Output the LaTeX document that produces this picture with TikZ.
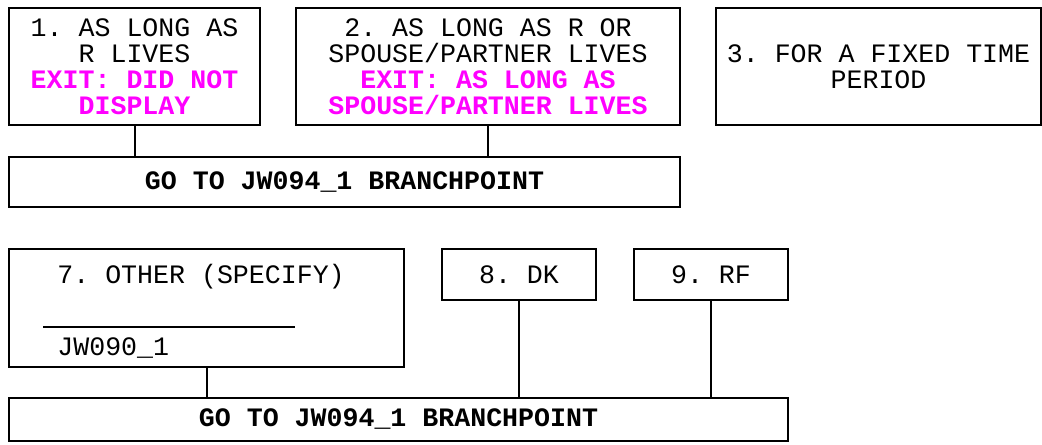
\documentclass[tikz,border=0pt]{standalone}
\usepackage{fontspec}
\setmonofont{Liberation Mono}
\definecolor{mag}{RGB}{255,0,255}
\begin{document}
\begin{tikzpicture}[x=0.5pt,y=-0.5pt]
\tikzset{
  box/.style={draw, line width=1pt, inner sep=0pt, align=center, text=black,
    font=\fontsize{13.3}{13}\selectfont\ttfamily},
  lbl/.style={inner sep=0pt, font=\fontsize{13.3}{13}\selectfont\ttfamily},
  conn/.style={line width=1pt}
}
\useasboundingbox (0,0) rectangle (1042,444);
\node[box, minimum width=125.5pt, minimum height=58.5pt] (b1) at (134.5,66.5)
  {1. AS LONG AS\\R LIVES\\{\color{mag}\bfseries EXIT: DID NOT}\\{\color{mag}\bfseries DISPLAY}};
\node[box, minimum width=192pt, minimum height=58.5pt] (b2) at (488,66.5)
  {2. AS LONG AS R OR\\SPOUSE/PARTNER LIVES\\{\color{mag}\bfseries EXIT: AS LONG AS}\\{\color{mag}\bfseries SPOUSE/PARTNER LIVES}};
\node[box, minimum width=162.5pt, minimum height=58.5pt] (b3) at (878.5,66.5)
  {3. FOR A FIXED TIME\\PERIOD};
\node[box, minimum width=335.5pt, minimum height=25pt, font=\fontsize{13.3}{13}\selectfont\ttfamily\bfseries] (go1) at (344.5,182)
  {GO TO JW094\_1 BRANCHPOINT};
\node[box, minimum width=197.5pt, minimum height=59pt] (b7) at (206.5,308) {};
\node[lbl, anchor=base west] (t7) at (57,283) {7. OTHER (SPECIFY)};
\coordinate (l7a) at (43,327);
\coordinate (l7b) at (295,327);
\draw[conn] (l7a) -- (l7b);
\node[lbl, anchor=base west] (jw) at (57,355) {JW090\_1};
\node[box, minimum width=77pt, minimum height=25.5pt] (b8) at (519,274.5) {8. DK};
\node[box, minimum width=77pt, minimum height=25.5pt] (b9) at (711,274.5) {9. RF};
\node[box, minimum width=389.5pt, minimum height=21.5pt, font=\fontsize{13.3}{13}\selectfont\ttfamily\bfseries] (go2) at (398.5,419.5)
  {GO TO JW094\_1 BRANCHPOINT};
\draw[conn] (b1.south) -- (b1.south |- go1.north);
\draw[conn] (b2.south) -- (b2.south |- go1.north);
\draw[conn] (b7.south) -- (b7.south |- go2.north);
\draw[conn] (b8.south) -- (b8.south |- go2.north);
\draw[conn] (b9.south) -- (b9.south |- go2.north);
\end{tikzpicture}
\end{document}
